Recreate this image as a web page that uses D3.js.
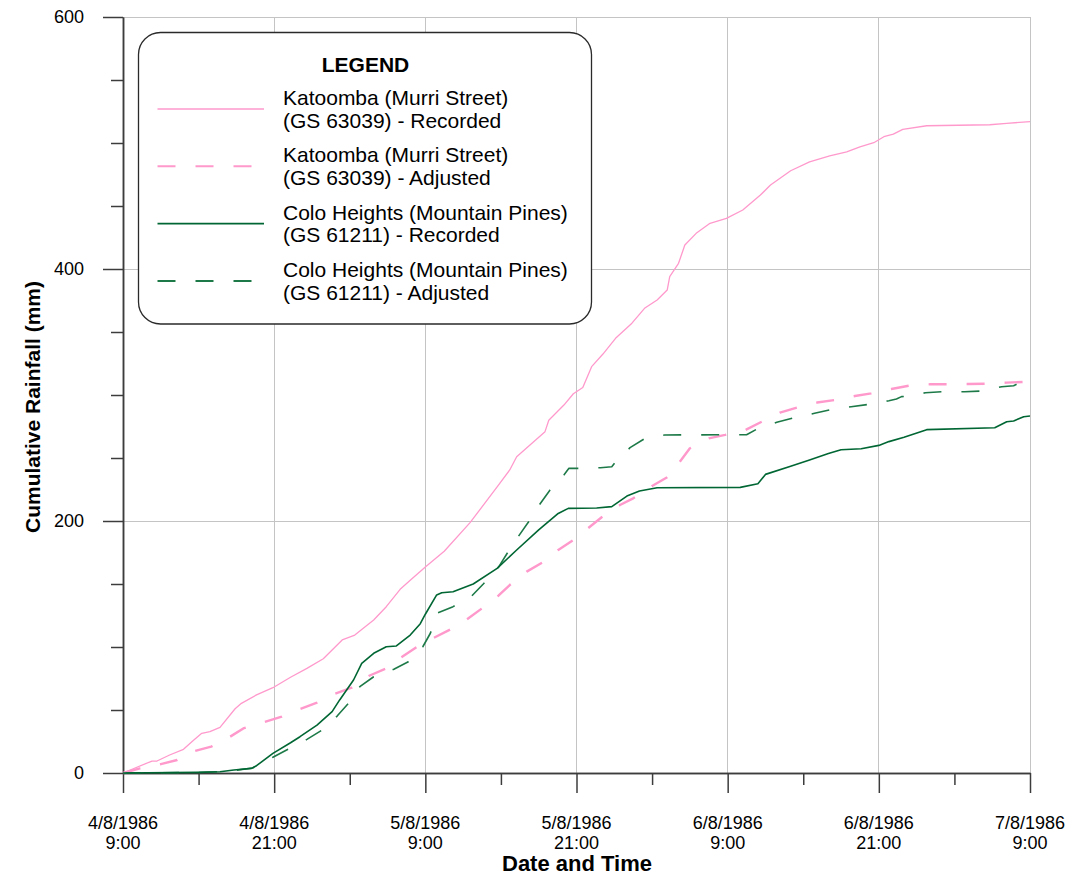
<!DOCTYPE html>
<html>
<head>
<meta charset="utf-8">
<script src="https://cdn.jsdelivr.net/npm/d3@7"></script>
<style>
  html, body { margin: 0; padding: 0; background: #fff; }
  svg { display: block; font-family: "Liberation Sans", Arial, sans-serif; }
</style>
</head>
<body>
<svg id="chart" width="1068" height="879"></svg>
<script>
// Cumulative rainfall, storm of 4–7 August 1986.
// Each point: [hours after 4/8/1986 9:00, cumulative rainfall in mm]

const katoombaRecorded = [
  [0, 0], [2.3, 9.5], [2.7, 9.5], [3.7, 14.3], [4.8, 18.8], [5.6, 26], [6.25, 31.5],
  [6.9, 32.8], [7.7, 36.2], [8.9, 51], [9.4, 55.3], [10.6, 62], [11.9, 67.7],
  [13.3, 76], [14.6, 83], [15.9, 90.7], [17.4, 105.6], [18.4, 109.5], [19.9, 121.4],
  [20.9, 132], [22.0, 145.8], [22.8, 153], [24.0, 163.5], [25.5, 176], [27.55, 198.7],
  [29.7, 227], [30.7, 240.5], [31.25, 251], [33.5, 270.9], [33.8, 280], [35.0, 292],
  [35.75, 301], [36.5, 306], [37.2, 322.5], [38.1, 332.5], [39.1, 345], [40.4, 357],
  [41.4, 368.8], [42.4, 375.4], [43.2, 383.3], [43.4, 394], [44.1, 404.5], [44.6, 419],
  [45.5, 428.3], [46.6, 436.3], [47.9, 440.2], [49.2, 446.8], [50.6, 458.7], [51.4, 466.7],
  [53.0, 478], [54.5, 485], [56.1, 489.7], [57.45, 493], [58.5, 497], [59.6, 500.2],
  [60.4, 505], [61.15, 507], [61.9, 510.8], [63.8, 513.7], [68.8, 514.5], [70.15, 515.6],
  [72, 517]
];

const katoombaAdjusted = [
  [0, 0], [1.35, 3.7], [3.0, 7.1], [4.3, 10.3], [5.7, 17.5], [7.0, 20.9], [8.5, 28.8],
  [9.55, 35.4], [11.1, 40], [12.6, 44.7], [14.05, 50.8], [15.4, 55.8], [16.8, 62.7],
  [18.15, 67.7], [19.5, 77], [20.9, 83], [22.1, 91.8], [23.3, 99.8], [24.6, 106.9],
  [26.0, 114], [27.3, 122], [28.5, 130.7], [29.8, 140.7], [30.7, 149.2], [32.05, 159.8],
  [33.4, 167.7], [34.55, 177], [35.75, 185], [36.9, 194.2], [38.0, 203], [39.45, 212.7],
  [40.5, 218], [42.0, 227.8], [43.2, 234.7], [44.2, 247], [45.0, 257.7], [46.5, 265.6],
  [47.8, 268.3], [49.4, 272.2], [50.7, 278.8], [52.15, 286], [53.5, 290], [55.1, 294],
  [56.5, 296], [58.1, 299.2], [59.4, 301.3], [61.0, 304.8], [62.4, 307.4], [64.1, 308.5],
  [67.1, 308.7], [68.6, 309], [70.15, 309.8], [72, 310.6]
];

const coloRecorded = [
  [0, 0], [5.85, 0.5], [7.7, 1], [8.8, 2.4], [10.2, 3.7], [10.6, 5.8], [11.9, 15.6],
  [13.3, 24], [14.05, 28.8], [15.4, 38], [16.6, 48.7], [17.2, 58], [18.3, 73.8],
  [18.95, 87], [19.9, 95], [20.9, 100.2], [21.7, 100.8], [22.8, 109.5], [23.6, 118.5],
  [24.0, 126], [24.9, 141.3], [25.3, 143], [26.2, 143.9], [27.8, 150], [29.7, 162.4],
  [31.25, 177], [33.0, 192.9], [34.55, 206], [35.35, 210], [37.6, 210.3], [38.8, 211.4],
  [40.0, 219.8], [41.0, 223.8], [42.4, 226.4], [49.0, 226.7], [50.4, 229.5], [51.0, 237],
  [53.0, 243.5], [54.5, 248.5], [56.0, 253.5], [57.0, 256.5], [58.6, 257.3], [60.0, 260],
  [60.8, 263], [62.0, 266.5], [63.8, 272.5], [69.2, 274], [70.15, 278.8], [70.7, 279.4],
  [71.5, 282.8], [72, 283.3]
];

const coloAdjusted = [
  [0, 0], [6.0, 0.4], [8.5, 1.5], [10.3, 4], [11.0, 7.5], [11.9, 12.5], [13.1, 18.8],
  [14.6, 26.7], [15.8, 34.1], [17.0, 45.2], [17.9, 55.3], [18.8, 68.5], [19.9, 76.4],
  [21.5, 82.3], [22.65, 88.3], [23.8, 100.2], [24.4, 110.9], [25.0, 127.2], [26.2, 132],
  [27.7, 140.7], [28.6, 150], [29.8, 163.2], [30.5, 174.4], [31.4, 188], [32.2, 199.4],
  [33.1, 213.5], [33.9, 224.6], [35.0, 236.5], [35.4, 241.8], [36.2, 241.8], [37.9, 242.3],
  [38.8, 243], [39.05, 246.3], [40.25, 258.2], [41.35, 265], [43.0, 268.3], [49.5, 268.5],
  [50.3, 272.8], [51.9, 278.3], [53.3, 282], [54.9, 285.5], [56.3, 288.6], [57.8, 290.7],
  [59.2, 292.6], [60.8, 295.5], [61.4, 296.8], [61.8, 298.7], [62.2, 299], [63.7, 301.8],
  [65.1, 302.6], [66.8, 302.6], [68.2, 303.2], [69.75, 306.6], [70.7, 307.4], [71.1, 309.3],
  [72, 311]
];

const seriesNames = ["Katoomba (Murri Street)", "Katoomba (Murri Street)",
                     "Colo Heights (Mountain Pines)", "Colo Heights (Mountain Pines)"];
const seriesGauges = ["(GS 63039) - Recorded", "(GS 63039) - Adjusted",
                      "(GS 61211) - Recorded", "(GS 61211) - Adjusted"];

const yMajorTicks = [0, 200, 400, 600];
const yMinorTicks = [50, 100, 150, 250, 300, 350, 450, 500, 550];

const startTime = new Date(1986, 7, 4, 9, 0);
const endTime = new Date(1986, 7, 7, 9, 0);
const atHours = h => new Date(startTime.getTime() + h * 3600 * 1000);

const svg = d3.select("#chart");
const margin = { left: 123, right: 38, top: 17, bottom: 106 };
const W = 1068, H = 879;

const x = d3.scaleTime().domain([startTime, endTime]).range([margin.left, W - margin.right]);
const y = d3.scaleLinear().domain([0, 600]).range([H - margin.bottom, margin.top]);

const majorTimes = d3.range(0, 73, 12).map(atHours);
const minorTimes = d3.range(6, 72, 12).map(atHours);

const gridColor = "#c4c4c4";
const axisColor = "#3c3c3c";

// grid
const grid = svg.append("g");
grid.selectAll("line.vg").data(majorTimes.slice(1)).join("line")
  .attr("x1", d => x(d)).attr("x2", d => x(d))
  .attr("y1", y(0)).attr("y2", y(600))
  .attr("stroke", gridColor).attr("stroke-width", 1).attr("shape-rendering", "crispEdges");
grid.selectAll("line.hg").data(yMajorTicks.slice(1)).join("line")
  .attr("x1", x(startTime)).attr("x2", x(endTime))
  .attr("y1", d => y(d)).attr("y2", d => y(d))
  .attr("stroke", gridColor).attr("stroke-width", 1).attr("shape-rendering", "crispEdges");

// axes
const xAxisMajor = d3.axisBottom(x).tickValues(majorTimes).tickSize(20).tickSizeOuter(0).tickFormat("");
const xAxisMinor = d3.axisBottom(x).tickValues(minorTimes).tickSize(12).tickSizeOuter(0).tickFormat("");
const yAxisMajor = d3.axisLeft(y).tickValues(yMajorTicks).tickSize(20).tickSizeOuter(0).tickFormat(d3.format("d"));
const yAxisMinor = d3.axisLeft(y).tickValues(yMinorTicks).tickSize(12).tickSizeOuter(0).tickFormat("");

function styleAxis(g) {
  g.selectAll("path.domain").attr("stroke", axisColor).attr("stroke-width", 1.5);
  g.selectAll(".tick line").attr("stroke", axisColor).attr("stroke-width", 1.5);
}

const gx = svg.append("g").attr("transform", `translate(0,${y(0)})`);
gx.append("g").call(xAxisMinor).call(styleAxis);
gx.append("g").call(xAxisMajor).call(styleAxis);

const fmtDate = d3.timeFormat("%-d/%-m/%Y");
const fmtTime = d3.timeFormat("%-H:%M");
const xLabels = svg.append("g").attr("font-size", 18).attr("fill", "#000").attr("text-anchor", "middle");
majorTimes.forEach(t => {
  const txt = xLabels.append("text").attr("x", x(t)).attr("y", 829);
  txt.append("tspan").attr("x", x(t)).text(fmtDate(t));
  txt.append("tspan").attr("x", x(t)).attr("dy", 20).text(fmtTime(t));
});

const gy = svg.append("g").attr("transform", `translate(${x(startTime)},0)`);
gy.append("g").call(yAxisMinor).call(styleAxis);
gy.append("g").call(yAxisMajor).call(styleAxis);
gy.selectAll(".tick text").attr("font-size", 18).attr("fill", "#000")
  .attr("font-family", "'Liberation Sans', Arial, sans-serif").attr("x", -39);

// axis titles
svg.append("text").attr("x", 577).attr("y", 871).attr("text-anchor", "middle")
  .attr("font-size", 22).attr("font-weight", "bold").text("Date and Time");
svg.append("text").attr("transform", `translate(40,407) rotate(-90)`).attr("text-anchor", "middle")
  .attr("font-size", 21).attr("font-weight", "bold").text("Cumulative Rainfall (mm)");

// series
const styles = [
  { color: "#ff99cc", width: 1.3, dash: null },
  { color: "#ff99cc", width: 2.4, dash: "18,20" },
  { color: "#006633", width: 1.6, dash: null },
  { color: "#1d7a48", width: 1.6, dash: "18,20" }
];
const allSeries = [katoombaRecorded, katoombaAdjusted, coloRecorded, coloAdjusted];

const line = d3.line().x(d => x(atHours(d[0]))).y(d => y(d[1]));
const drawOrder = [1, 3, 0, 2];
drawOrder.forEach(i => {
  svg.append("path").datum(allSeries[i])
    .attr("d", line).attr("fill", "none")
    .attr("stroke", styles[i].color).attr("stroke-width", styles[i].width)
    .attr("stroke-dasharray", styles[i].dash)
    .attr("stroke-linejoin", "round");
});

// legend
const lg = svg.append("g");
lg.append("rect").attr("x", 138.5).attr("y", 32.5).attr("width", 453).attr("height", 291.5)
  .attr("rx", 22).attr("ry", 22).attr("fill", "#fff").attr("stroke", "#2a2a2a").attr("stroke-width", 1.3);
lg.append("text").attr("x", 365.5).attr("y", 72).attr("text-anchor", "middle")
  .attr("font-size", 21).attr("font-weight", "bold").text("LEGEND");
seriesNames.forEach((name, i) => {
  const base = 105 + i * 57.3;
  const ly = base + 4;
  lg.append("line").attr("x1", 157.5).attr("x2", styles[i].dash ? 252.5 : 264)
    .attr("y1", ly).attr("y2", ly)
    .attr("stroke", styles[i].color).attr("stroke-width", styles[i].dash ? 2 : 1.6)
    .attr("stroke-dasharray", styles[i].dash);
  const t = lg.append("text").attr("x", 283).attr("y", base).attr("font-size", 21);
  t.append("tspan").attr("x", 283).text(name);
  t.append("tspan").attr("x", 283).attr("dy", 22.7).text(seriesGauges[i]);
});
</script>
</body>
</html>
